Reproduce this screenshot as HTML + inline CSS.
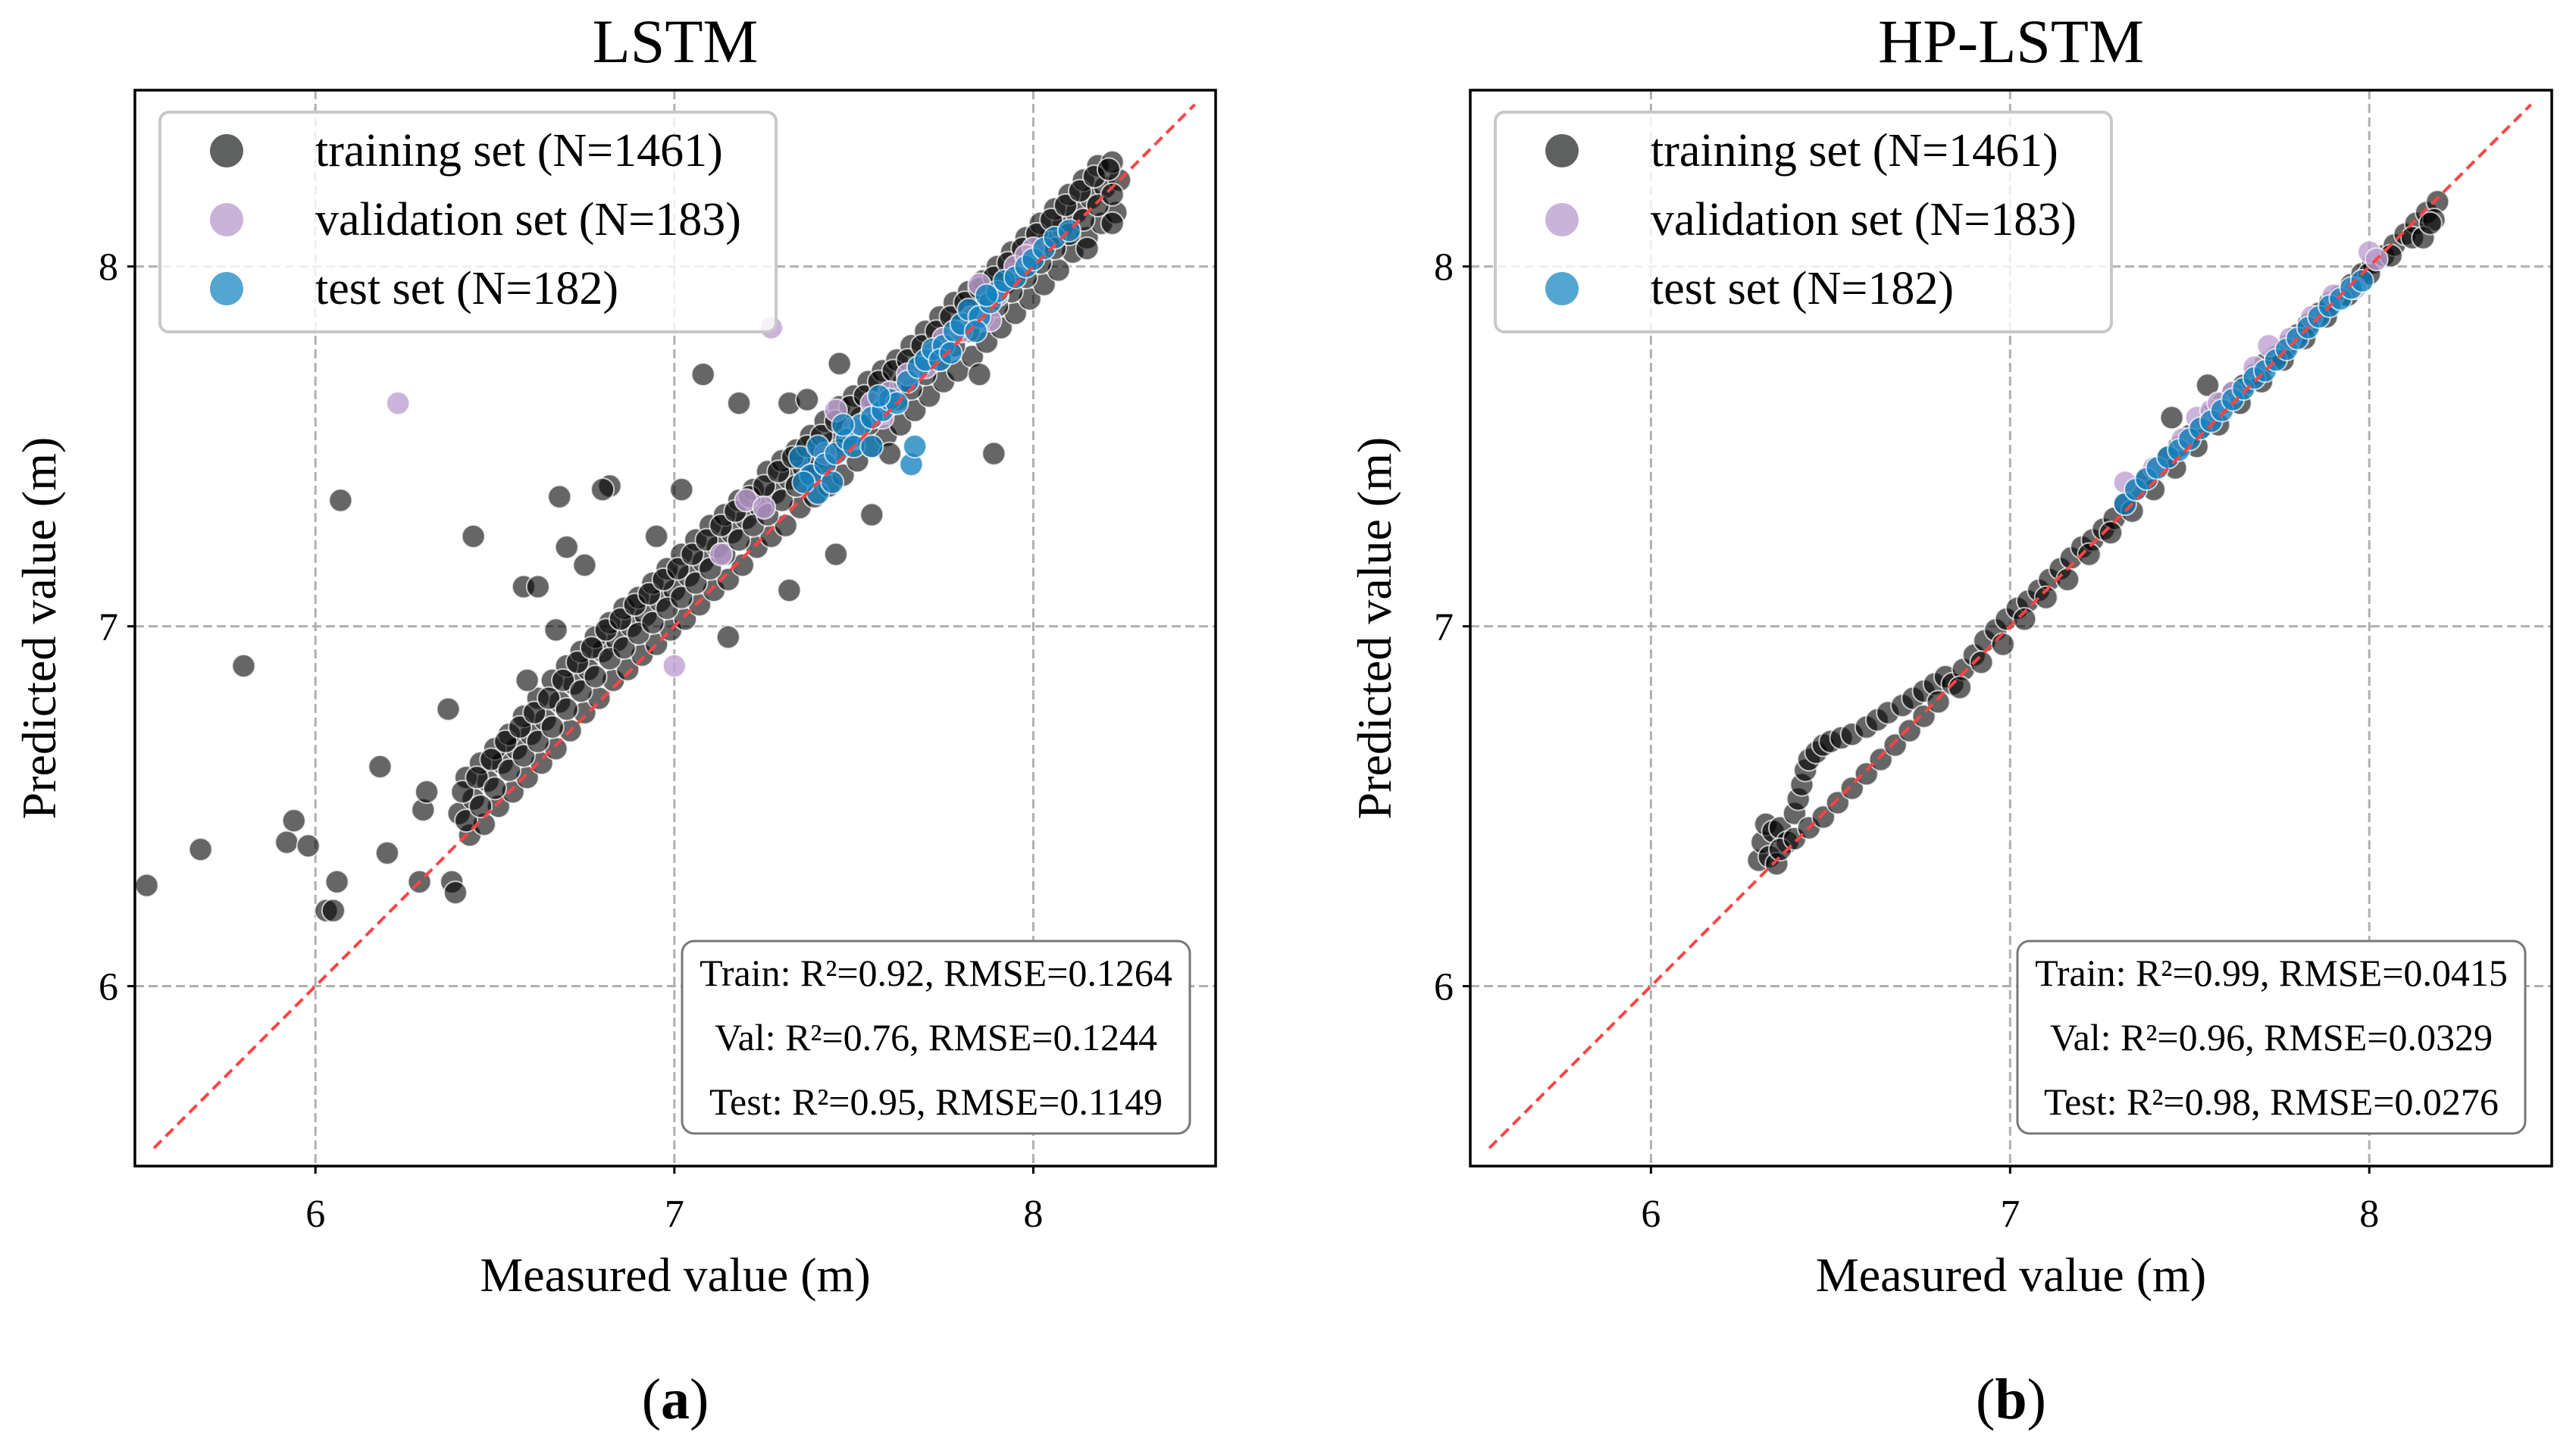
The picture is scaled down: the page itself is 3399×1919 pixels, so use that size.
<!DOCTYPE html>
<html><head><meta charset="utf-8"><style>
html,body{margin:0;padding:0;background:#fff;}
svg{display:block;font-family:"Liberation Serif",serif;}
</style></head><body>
<svg id="fig" width="3399" height="1919" viewBox="0 0 3399 1919" xmlns="http://www.w3.org/2000/svg"></svg>
<script>
// ---- data: panel (a) LSTM ----
const ticks = [6, 7, 8];
const tickLabels = ["6", "7", "8"];
const legendLabels = ["training set (N=1461)", "validation set (N=183)", "test set (N=182)"];
const statsA = ["Train: R²=0.92, RMSE=0.1264", "Val: R²=0.76, RMSE=0.1244", "Test: R²=0.95, RMSE=0.1149"];
const statsB = ["Train: R²=0.99, RMSE=0.0415", "Val: R²=0.96, RMSE=0.0329", "Test: R²=0.98, RMSE=0.0276"];

const aTrainX = [6.40,6.44,6.48,6.52,6.56,6.60,6.64,6.68,6.72,6.76,6.80,6.84,6.88,6.92,6.96,7.00,7.04,7.08,7.12,7.16,7.20,7.24,7.28,7.32,7.36,7.40,7.44,7.48,7.52,7.56,7.60,7.64,7.68,7.72,7.76,7.80,7.84,7.88,7.92,7.96,8.00,8.04,8.08,8.12,8.16,8.20,8.24,
 6.42,6.46,6.50,6.54,6.58,6.62,6.66,6.70,6.74,6.78,6.82,6.86,6.90,6.94,6.98,7.02,7.06,7.10,7.14,7.18,7.22,7.26,7.30,7.34,7.38,7.42,7.46,7.50,7.54,7.58,7.62,7.66,7.70,7.74,7.78,7.82,7.86,7.90,7.94,7.98,8.02,8.06,8.10,8.14,8.18,8.22,
 6.43,6.47,6.51,6.55,6.59,6.63,6.67,6.71,6.75,6.79,6.83,6.87,6.91,6.95,6.99,7.03,7.07,7.11,7.15,7.19,7.23,7.27,7.31,7.35,7.39,7.43,7.47,7.51,7.55,7.59,7.63,7.67,7.71,7.75,7.79,7.83,7.87,7.91,7.95,7.99,8.03,8.07,8.11,8.15,8.19,8.23,
 6.41,6.45,6.49,6.53,6.57,6.61,6.65,6.69,6.73,6.77,6.81,6.85,6.89,6.93,6.97,7.01,7.05,7.09,7.13,7.17,7.21,7.25,7.29,7.33,7.37,7.41,7.45,7.49,7.53,7.57,7.61,7.65,7.69,7.73,7.77,7.81,7.85,7.89,7.93,7.97,8.01,8.05,8.09,8.13,8.17,8.21,
 6.42,6.46,6.50,6.54,6.58,6.62,6.66,6.70,6.74,6.78,6.82,6.86,6.90,6.94,6.98,7.02,7.06,7.10,7.14,7.18,7.22,7.26,7.30,7.34,7.38,7.42,7.46,7.50,7.54,7.58,7.62,7.66,7.70,7.74,7.78,7.82,7.86,7.90,7.94,7.98,8.02,8.06,8.10,8.14,8.18,8.22,
 5.53,5.68,5.80,5.92,5.94,5.98,6.03,6.05,6.06,6.07,6.18,6.20,6.29,6.30,6.31,6.37,6.38,6.39,6.44,6.68,6.82,6.80,6.58,6.62,6.70,6.75,6.67,6.59,7.08,7.18,7.15,7.32,7.37,7.46,7.45,7.32,7.55,7.89,7.02,6.95,7.60,7.85,8.15,8.22];
const aTrainY = [6.48,6.52,6.57,6.62,6.66,6.70,6.74,6.79,6.84,6.88,6.93,6.96,7.00,7.03,7.07,7.10,7.14,7.18,7.22,7.26,7.30,7.33,7.37,7.41,7.44,7.47,7.51,7.55,7.58,7.62,7.65,7.68,7.72,7.76,7.80,7.84,7.88,7.91,7.95,7.99,8.03,8.07,8.11,8.15,8.19,8.22,8.24,
 6.58,6.62,6.66,6.70,6.75,6.80,6.85,6.89,6.93,6.97,7.01,7.05,7.08,7.12,7.16,7.20,7.24,7.28,7.31,7.35,7.38,7.43,7.46,7.49,7.53,7.57,7.61,7.64,7.68,7.71,7.74,7.78,7.82,7.86,7.90,7.93,7.96,8.00,8.04,8.08,8.12,8.16,8.20,8.24,8.28,8.29,
 6.42,6.45,6.50,6.54,6.58,6.62,6.66,6.71,6.76,6.80,6.85,6.88,6.92,6.95,6.99,7.02,7.06,7.10,7.13,7.17,7.22,7.25,7.28,7.33,7.36,7.39,7.42,7.46,7.50,7.53,7.56,7.60,7.64,7.68,7.71,7.75,7.79,7.83,7.87,7.91,7.95,7.99,8.04,8.08,8.12,8.15,
 6.54,6.58,6.63,6.68,6.72,6.76,6.80,6.85,6.90,6.94,6.99,7.02,7.06,7.09,7.13,7.16,7.20,7.24,7.28,7.32,7.36,7.39,7.43,7.47,7.50,7.53,7.57,7.61,7.64,7.68,7.71,7.74,7.78,7.82,7.86,7.90,7.94,7.97,8.01,8.05,8.09,8.13,8.17,8.21,8.25,8.27,
 6.46,6.50,6.55,6.60,6.64,6.68,6.72,6.77,6.82,6.86,6.91,6.94,6.98,7.01,7.05,7.08,7.12,7.16,7.20,7.24,7.28,7.31,7.35,7.39,7.42,7.45,7.49,7.53,7.56,7.60,7.63,7.66,7.70,7.74,7.78,7.82,7.86,7.89,7.93,7.97,8.01,8.05,8.09,8.13,8.17,8.20,
 6.28,6.38,6.89,6.40,6.46,6.39,6.21,6.21,6.29,7.35,6.61,6.37,6.29,6.49,6.54,6.77,6.29,6.26,7.25,7.36,7.39,7.38,7.11,7.11,7.22,7.17,6.99,6.85,7.70,7.62,6.97,7.62,7.63,7.73,7.20,7.10,7.31,7.48,7.38,7.25,7.48,7.70,8.05,8.12];
const aValX = [6.23,7.27,7.00,7.13,7.20,7.25,7.50,7.55,7.60,7.70,7.75,7.80,7.85,7.88,7.90,7.95,8.00,7.45,7.65,7.42,7.58,7.72,7.83,7.98];
const aValY = [7.62,7.83,6.89,7.20,7.35,7.33,7.55,7.62,7.65,7.72,7.80,7.82,7.95,7.85,7.92,8.00,8.05,7.60,7.70,7.48,7.58,7.76,7.86,8.03];
const aTestX = [7.35,7.38,7.40,7.42,7.45,7.48,7.50,7.52,7.55,7.58,7.60,7.62,7.65,7.68,7.70,7.72,7.75,7.78,7.80,7.82,7.85,7.88,7.90,7.92,7.95,7.98,8.00,8.03,8.06,8.10,7.66,7.67,7.40,7.55,7.36,7.44,7.74,7.84,7.47,7.57,7.77,7.87];
const aTestY = [7.47,7.42,7.50,7.45,7.48,7.52,7.50,7.56,7.58,7.60,7.63,7.62,7.68,7.72,7.74,7.77,7.78,7.82,7.84,7.88,7.86,7.90,7.93,7.96,7.97,8.00,8.02,8.05,8.08,8.10,7.45,7.50,7.37,7.50,7.40,7.40,7.74,7.82,7.56,7.64,7.76,7.92];

// ---- data: panel (b) HP-LSTM ----
const bTrainX = [6.30,6.31,6.32,6.33,6.34,6.35,6.36,6.38,6.40,6.41,6.42,6.43,6.44,6.46,6.48,6.50,6.53,6.56,6.60,6.63,6.66,6.70,6.73,6.76,6.79,6.82,
 6.36,6.40,6.44,6.48,6.52,6.56,6.60,6.64,6.68,6.72,6.76,6.80,
 6.84,6.87,6.90,6.93,6.96,6.99,7.02,7.05,7.08,7.11,7.14,7.17,7.20,7.23,7.26,7.29,7.32,7.35,7.38,7.41,7.44,7.47,7.50,7.53,7.56,7.59,7.62,7.65,7.68,7.71,7.74,7.77,7.80,7.83,7.86,7.89,7.92,7.95,7.98,8.01,8.04,8.07,8.10,8.13,8.16,8.19,
 6.86,6.92,6.98,7.04,7.10,7.16,7.22,7.28,7.34,7.40,7.46,7.52,7.58,7.64,7.70,7.76,7.82,7.88,7.94,8.00,8.06,8.12,8.18,7.55,7.45,8.15,8.17];
const bTrainY = [6.35,6.40,6.45,6.36,6.43,6.34,6.44,6.40,6.48,6.52,6.56,6.60,6.63,6.65,6.67,6.68,6.69,6.70,6.72,6.74,6.76,6.78,6.80,6.82,6.84,6.86,
 6.38,6.41,6.44,6.47,6.51,6.55,6.59,6.63,6.67,6.71,6.75,6.79,
 6.84,6.88,6.92,6.96,6.99,7.02,7.05,7.07,7.10,7.13,7.16,7.19,7.22,7.24,7.27,7.30,7.34,7.38,7.41,7.44,7.47,7.50,7.53,7.55,7.59,7.62,7.65,7.67,7.70,7.73,7.75,7.78,7.81,7.84,7.87,7.90,7.92,7.95,7.98,8.01,8.03,8.06,8.09,8.12,8.15,8.18,
 6.83,6.90,6.95,7.02,7.08,7.13,7.20,7.26,7.32,7.38,7.44,7.50,7.56,7.62,7.68,7.74,7.80,7.86,7.92,7.98,8.03,8.08,8.13,7.67,7.58,8.08,8.12];
const bValX = [7.32,7.40,7.48,7.52,7.56,7.62,7.68,7.72,7.78,7.84,7.90,7.96,8.00,8.02,7.58];
const bValY = [7.40,7.44,7.52,7.58,7.60,7.65,7.72,7.78,7.80,7.86,7.92,7.94,8.04,8.02,7.62];
const bTestX = [7.32,7.35,7.38,7.41,7.44,7.47,7.50,7.53,7.56,7.59,7.62,7.65,7.68,7.71,7.74,7.77,7.80,7.83,7.86,7.89,7.92,7.95,7.98];
const bTestY = [7.34,7.38,7.41,7.44,7.47,7.49,7.52,7.55,7.57,7.60,7.63,7.66,7.69,7.71,7.74,7.77,7.80,7.83,7.86,7.89,7.91,7.94,7.96];

const NS = "http://www.w3.org/2000/svg";
const svg = document.getElementById("fig");
function mk(tag, attrs, parent) {
  const e = document.createElementNS(NS, tag);
  for (const k in attrs) e.setAttribute(k, attrs[k]);
  (parent || svg).appendChild(e);
  return e;
}
const XD = [5.497, 8.508], YD = [5.5, 8.49];
const TOP = 119, BOT = 1539;

function panel(px0, px1, title, letter, trX, trY, vaX, vaY, teX, teY, stats, key) {
  const sx = v => px0 + (v - XD[0]) / (XD[1] - XD[0]) * (px1 - px0);
  const sy = v => BOT - (v - YD[0]) / (YD[1] - YD[0]) * (BOT - TOP);
  const g = mk("g", {});
  
  
  const cx = (px0 + px1) / 2;
  ticks.forEach((t, i) => {
    const gx = mk("line", {x1: sx(t), x2: sx(t), y1: TOP, y2: BOT, stroke: "#b0b0b0", "stroke-width": 3, "stroke-dasharray": "12,6"}, g);
    
    
    const gy = mk("line", {x1: px0, x2: px1, y1: sy(t), y2: sy(t), stroke: "#b0b0b0", "stroke-width": 3, "stroke-dasharray": "12,6"}, g);
    
    
    mk("line", {x1: sx(t), x2: sx(t), y1: BOT, y2: BOT + 10, stroke: "#000", "stroke-width": 3}, g);
    mk("line", {x1: px0 - 10, x2: px0, y1: sy(t), y2: sy(t), stroke: "#000", "stroke-width": 3}, g);
    const xl = mk("text", {x: sx(t), y: BOT + 80, "font-size": 52, "text-anchor": "middle"}, g);
    xl.textContent = tickLabels[i];
    
    
    const yl = mk("text", {x: px0 - 22, y: sy(t) + 18, "font-size": 52, "text-anchor": "end"}, g);
    yl.textContent = tickLabels[i];
    
    
  });
  function series(xs, ys, fill, name) {
    const sg = mk("g", {}, g);
    
    
    xs.forEach((x, i) => {
      const c = mk("circle", {cx: sx(x), cy: sy(ys[i]), r: 15, fill: fill, stroke: "#fff", "stroke-opacity": 0.7, "stroke-width": 2}, sg);
      
      
    });
  }
  series(trX, trY, "rgba(0,0,0,0.6)", "training-series");
  series(vaX, vaY, "rgba(190,160,210,0.8)", "validation-series");
  series(teX, teY, "rgba(20,130,190,0.78)", "test-series");
  const d = mk("line", {x1: sx(5.55), y1: sy(5.55), x2: sx(8.45), y2: sy(8.45), stroke: "#f44", "stroke-width": 4, "stroke-dasharray": "14,8"}, g);
  
  
  const f = mk("rect", {x: px0, y: TOP, width: px1 - px0, height: BOT - TOP, fill: "none", stroke: "#000", "stroke-width": 3.5}, g);
  
  
  const tt = mk("text", {x: cx, y: 82, "font-size": 82, "text-anchor": "middle"}, g);
  tt.textContent = title;
  
  
  const xlab = mk("text", {x: cx, y: 1704, "font-size": 64, "text-anchor": "middle"}, g);
  xlab.textContent = "Measured value (m)";
  
  
  const ylx = px0 - 105, yly = (TOP + BOT) / 2;
  const ylab = mk("text", {x: ylx, y: yly, "font-size": 64, "text-anchor": "middle", transform: `rotate(-90 ${ylx} ${yly})`}, g);
  ylab.textContent = "Predicted value (m)";
  
  
  const lt = mk("text", {x: cx, y: 1872, "font-size": 76, "text-anchor": "middle"}, g);
  lt.innerHTML = '(<tspan font-weight="bold">' + letter + '</tspan>)';
  
  
  const lg = mk("g", {}, g);
  
  
  mk("rect", {x: px0 + 33, y: 148, width: 813, height: 290, rx: 12, fill: "rgba(255,255,255,0.8)", stroke: "#c8c8c8", "stroke-width": 4}, lg);
  const lc = ["#5f6160", "#c9b3d8", "#52a6cf"];
  legendLabels.forEach((lab, i) => {
    const yy = 199 + i * 91;
    const e = mk("g", {}, lg);
    
    
    mk("circle", {cx: px0 + 121, cy: yy, r: 22, fill: lc[i]}, e);
    const t = mk("text", {x: px0 + 238, y: yy + 20, "font-size": 62}, e);
    t.textContent = lab;
  });
  const sb = mk("g", {}, g);
  
  
  mk("rect", {x: px0 + 722, y: 1242, width: 670, height: 254, rx: 16, fill: "#fff", stroke: "#777", "stroke-width": 3}, sb);
  stats.forEach((s, i) => {
    const t = mk("text", {x: px0 + 1057, y: 1301 + i * 85, "font-size": 50, "text-anchor": "middle"}, sb);
    t.textContent = s;
    
    
  });
}
panel(178, 1604, "LSTM", "a", aTrainX, aTrainY, aValX, aValY, aTestX, aTestY, statsA, "lstm");
panel(1940, 3367, "HP-LSTM", "b", bTrainX, bTrainY, bValX, bValY, bTestX, bTestY, statsB, "hp-lstm");
</script>
</body></html>
